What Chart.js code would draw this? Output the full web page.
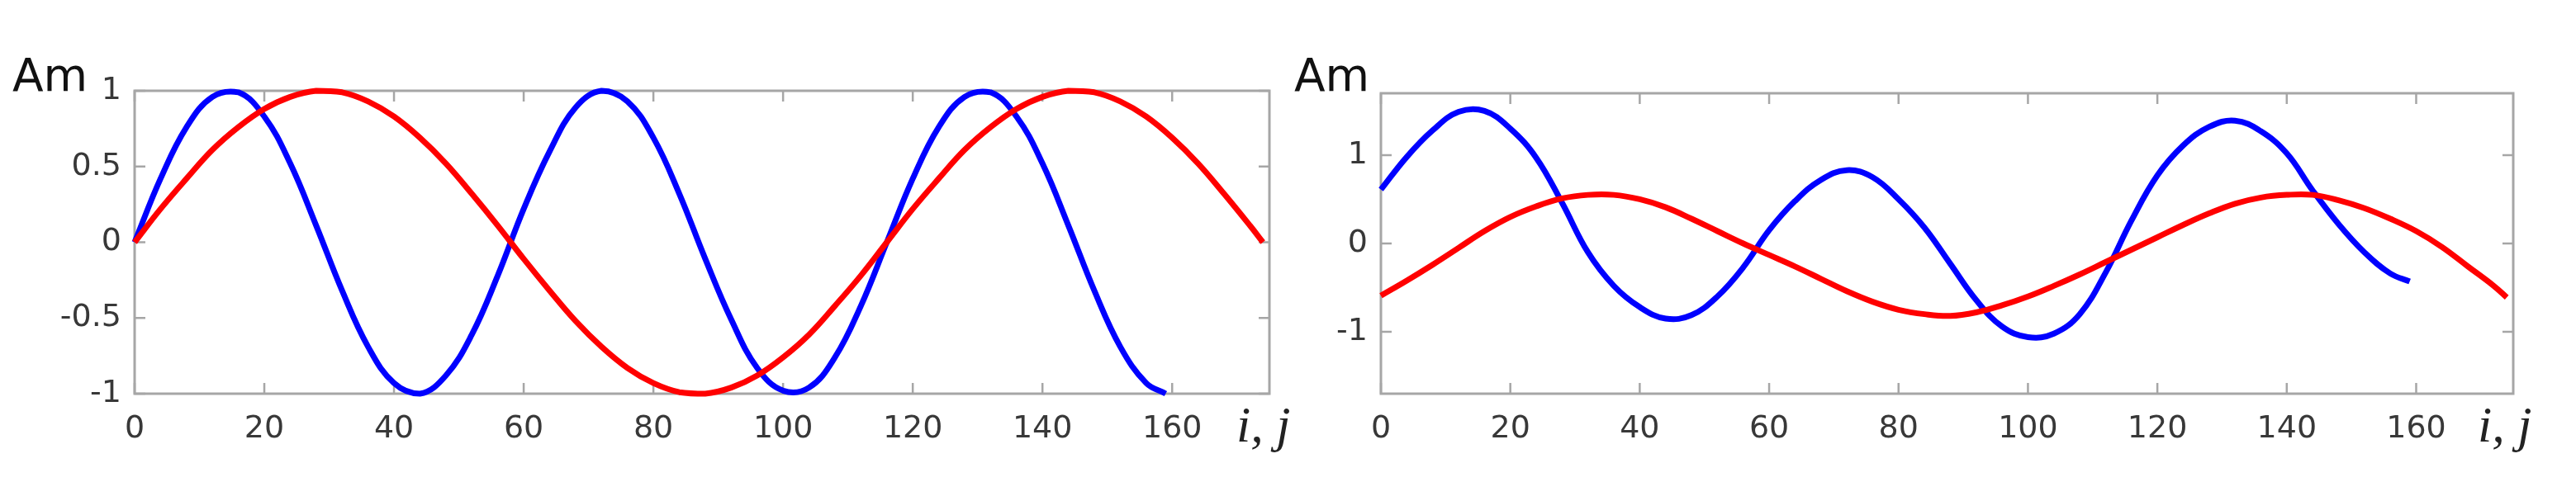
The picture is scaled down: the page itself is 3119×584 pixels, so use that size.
<!DOCTYPE html>
<html>
<head>
<meta charset="utf-8">
<script src="https://cdn.jsdelivr.net/npm/chart.js@4"></script>
<style>
  html, body { margin: 0; padding: 0; background: #fff; }
  body { width: 3119px; height: 584px; position: relative; overflow: hidden; }
  canvas { position: absolute; top: 0; }
  #left { left: 0; }
  #right { left: 1540px; }
</style>
</head>
<body>
<canvas id="left" width="1600" height="584"></canvas>
<canvas id="right" width="1579" height="584"></canvas>
<script>
// sample positions (i, j)
const blueX = [0, 4, 8, 12, 16, 20, 24, 28, 32, 36, 40, 44, 48, 52, 56, 60, 64, 68, 72, 76,
  80, 84, 88, 92, 96, 100, 104, 108, 112, 116, 120, 124, 128, 132, 136, 140, 144, 148, 152, 156, 159];
const redX = [0, 4, 8, 12, 16, 20, 24, 28, 32, 36, 40, 44, 48, 52, 56, 60, 64, 68, 72, 76,
  80, 84, 88, 92, 96, 100, 104, 108, 112, 116, 120, 124, 128, 132, 136, 140, 144, 148, 152, 156,
  160, 164, 168, 172, 174];

// left panel
const leftBlue = [0, 0.42, 0.76, 0.96, 0.99, 0.83, 0.52, 0.11, -0.32, -0.69, -0.93, -1.00, -0.88, -0.61,
  -0.22, 0.22, 0.60, 0.89, 1.00, 0.93, 0.69, 0.32, -0.11, -0.51, -0.83, -0.98, -0.96, -0.76, -0.42,
  0.00, 0.42, 0.76, 0.96, 0.99, 0.83, 0.52, 0.11, -0.32, -0.69, -0.93, -1.00];
const leftRed = [0, 0.22, 0.42, 0.61, 0.76, 0.88, 0.96, 1.00, 0.99, 0.93, 0.83, 0.69, 0.52, 0.32, 0.11,
  -0.11, -0.32, -0.52, -0.69, -0.83, -0.93, -0.99, -1.00, -0.96, -0.88, -0.76, -0.61, -0.42, -0.22,
  0.00, 0.22, 0.42, 0.61, 0.76, 0.88, 0.96, 1.00, 0.99, 0.93, 0.83, 0.69, 0.52, 0.32, 0.11, 0.00];

// right panel
const rightBlue = [0.61, 0.98, 1.28, 1.49, 1.50, 1.30, 0.97, 0.46, -0.10, -0.48, -0.72, -0.85, -0.81,
  -0.60, -0.27, 0.15, 0.48, 0.72, 0.83, 0.75, 0.50, 0.18, -0.23, -0.64, -0.94, -1.06, -1.02, -0.80,
  -0.33, 0.26, 0.77, 1.11, 1.32, 1.39, 1.27, 1.02, 0.60, 0.22, -0.10, -0.34, -0.43];
const rightRed = [-0.59, -0.42, -0.24, -0.05, 0.14, 0.30, 0.42, 0.51, 0.55, 0.55, 0.50, 0.41, 0.28, 0.14,
  0.00, -0.13, -0.26, -0.40, -0.54, -0.66, -0.75, -0.80, -0.82, -0.78, -0.70, -0.60, -0.48, -0.35,
  -0.21, -0.07, 0.07, 0.21, 0.34, 0.45, 0.52, 0.55, 0.55, 0.49, 0.40, 0.28, 0.14, -0.04, -0.26, -0.48, -0.61];

// axes
const xTicks = [0, 20, 40, 60, 80, 100, 120, 140, 160];
const leftYTicks = [-1, -0.5, 0, 0.5, 1];
const rightYTicks = [-1, 0, 1];
const yLabel = "Am";
const xLabel = "i, j";

const tickFont = { family: "'DejaVu Sans', sans-serif", size: 38 };

function pts(xs, ys) {
  return xs.map((x, k) => ({ x: x, y: ys[k] }));
}

// box frame with inward ticks on all four sides, plus the axis titles
const framePlugin = {
  id: 'frame',
  beforeDatasetsDraw(chart) {
    const { ctx, chartArea: a, scales } = chart;
    ctx.save();
    ctx.strokeStyle = '#a6a6a6';
    ctx.lineWidth = 3;
    ctx.strokeRect(a.left, a.top, a.right - a.left, a.bottom - a.top);
    ctx.lineWidth = 2.5;
    const t = 13;
    ctx.beginPath();
    scales.x.ticks.forEach(tk => {
      const px = scales.x.getPixelForValue(tk.value);
      ctx.moveTo(px, a.bottom); ctx.lineTo(px, a.bottom - t);
      ctx.moveTo(px, a.top); ctx.lineTo(px, a.top + t);
    });
    scales.y.ticks.forEach(tk => {
      const py = scales.y.getPixelForValue(tk.value);
      ctx.moveTo(a.left, py); ctx.lineTo(a.left + t, py);
      ctx.moveTo(a.right, py); ctx.lineTo(a.right - t, py);
    });
    ctx.stroke();
    ctx.restore();
  },
  afterDraw(chart, args, opts) {
    const ctx = chart.ctx;
    ctx.save();
    ctx.fillStyle = '#111';
    ctx.textBaseline = 'alphabetic';
    ctx.font = "55px 'DejaVu Sans', sans-serif";
    ctx.fillText(yLabel, opts.amX, 110);
    ctx.font = "italic 62px 'Liberation Serif', serif";
    ctx.fillStyle = '#222';
    ctx.fillText(xLabel, opts.ijX, 535);
    ctx.restore();
  }
};

function makeChart(id, blue, red, yMin, yMax, yTicks, pad, yWidth, amX, ijX) {
  const line = { borderWidth: 7, pointRadius: 0, tension: 0.4, fill: false, clip: false };
  return new Chart(document.getElementById(id), {
    type: 'line',
    data: {
      datasets: [
        Object.assign({ data: pts(redX, red), borderColor: '#ff0000' }, line),
        Object.assign({ data: pts(blueX, blue), borderColor: '#0000ff' }, line)
      ]
    },
    options: {
      responsive: false,
      animation: false,
      events: [],
      layout: { padding: pad },
      plugins: {
        legend: { display: false },
        tooltip: { enabled: false },
        frame: { amX: amX, ijX: ijX }
      },
      scales: {
        x: {
          type: 'linear',
          min: 0,
          max: 175,
          afterBuildTicks: s => { s.ticks = xTicks.map(v => ({ value: v })); },
          afterFit: s => { s.height = 107; },
          grid: { display: false, drawTicks: false },
          border: { display: false },
          ticks: { font: tickFont, color: '#383838', padding: 20, includeBounds: false, maxRotation: 0 }
        },
        y: {
          min: yMin,
          max: yMax,
          afterBuildTicks: s => { s.ticks = yTicks.map(v => ({ value: v })); },
          afterFit: s => { s.width = yWidth; },
          grid: { display: false, drawTicks: false },
          border: { display: false },
          ticks: { font: tickFont, color: '#383838', padding: 16, callback: v => String(v) }
        }
      }
    },
    plugins: [framePlugin]
  });
}

makeChart('left', leftBlue, leftRed, -1, 1, leftYTicks,
  { top: 110, right: 63, bottom: 0, left: 0 }, 163, 15, 1497);
makeChart('right', rightBlue, rightRed, -1.7, 1.7, rightYTicks,
  { top: 113, right: 76, bottom: 0, left: 0 }, 132, 27, 1460);
</script>
</body>
</html>
